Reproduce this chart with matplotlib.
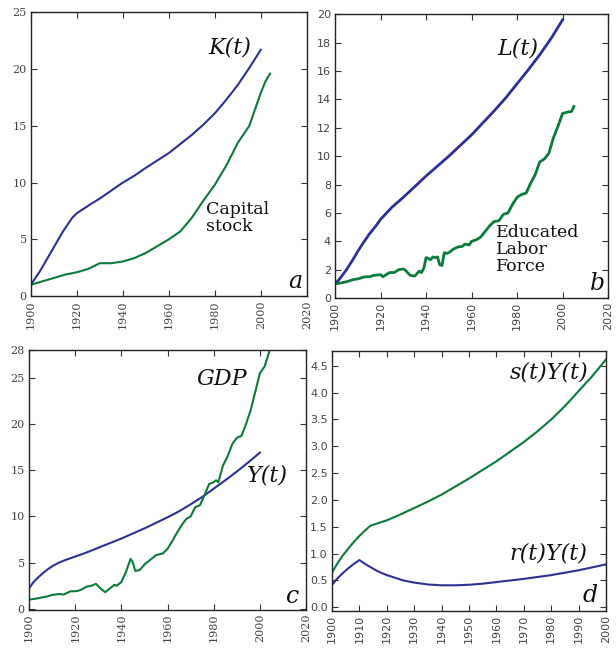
import numpy as np
import matplotlib.pyplot as plt

blue = '#2d3194'
green = '#0b7a3c'
serif = ['DejaVu Serif']
sans = ['DejaVu Sans']

# ---- panel a: capital ----
k_years = [1900, 1902, 1904, 1906, 1908, 1910, 1912, 1914, 1916, 1918, 1920, 1923, 1926, 1930, 1935,
           1940, 1945, 1950, 1955, 1960, 1965, 1970, 1975, 1980, 1985, 1990, 1995, 2000]
k_model = [1.0, 1.6, 2.2, 2.9, 3.6, 4.3, 5.0, 5.7, 6.3, 6.9, 7.3, 7.7, 8.1, 8.6, 9.3,
           10.0, 10.6, 11.3, 11.95, 12.6, 13.4, 14.2, 15.1, 16.1, 17.3, 18.6, 20.1, 21.7]
cap_years = [1900, 1905, 1910, 1915, 1920, 1925, 1930, 1935, 1940, 1945, 1950, 1955, 1960, 1965, 1970, 1975,
             1980, 1985, 1990, 1995, 2000, 2002, 2004]
cap_stock = [1.0, 1.3, 1.6, 1.9, 2.1, 2.4, 2.9, 2.9, 3.05, 3.35, 3.8, 4.4, 5.0, 5.7, 6.9, 8.4,
             9.8, 11.5, 13.5, 15.0, 17.9, 18.9, 19.6]

# ---- panel b: labour ----
l_years = [1900, 1902, 1905, 1908, 1910, 1912, 1915, 1918, 1920, 1925, 1930, 1935, 1940, 1945, 1950,
           1955, 1960, 1965, 1970, 1975, 1980, 1985, 1990, 1995, 2000]
l_model = [1.0, 1.35, 2.0, 2.75, 3.3, 3.8, 4.5, 5.1, 5.55, 6.4, 7.1, 7.85, 8.6, 9.3, 10.0,
           10.75, 11.5, 12.35, 13.2, 14.1, 15.1, 16.1, 17.15, 18.3, 19.6]
edu_years = [1900, 1902, 1905, 1908, 1910, 1913, 1915, 1917, 1920, 1921, 1922, 1924, 1926, 1928, 1930, 1931,
             1933, 1935, 1937, 1938, 1939, 1940, 1941, 1942, 1943, 1944, 1945, 1946, 1947, 1948, 1949, 1950,
             1952, 1954, 1956, 1957, 1959, 1960, 1962, 1964, 1966, 1968, 1970, 1972, 1974, 1976, 1978, 1980,
             1982, 1984, 1986, 1988, 1990, 1992, 1994, 1996, 1998, 2000, 2002, 2004, 2005]
edu_labor = [1.0, 1.05, 1.15, 1.3, 1.35, 1.5, 1.5, 1.6, 1.65, 1.5, 1.6, 1.8, 1.8, 2.0, 2.05, 1.95,
             1.6, 1.55, 1.9, 1.8, 2.1, 2.85, 2.8, 2.7, 2.9, 2.85, 2.9, 2.35, 2.3, 3.2, 3.15, 3.2,
             3.45, 3.6, 3.65, 3.8, 3.75, 4.0, 4.1, 4.3, 4.7, 5.1, 5.4, 5.45, 5.9, 6.0, 6.6, 7.1,
             7.3, 7.4, 8.1, 8.7, 9.6, 9.8, 10.2, 11.3, 12.1, 13.0, 13.1, 13.15, 13.5]

# ---- panel c: output ----
y_years = [1900, 1902, 1904, 1906, 1908, 1910, 1913, 1916, 1920, 1925, 1930, 1935, 1940, 1945, 1950,
           1955, 1960, 1965, 1970, 1975, 1980, 1985, 1990, 1995, 2000]
y_model = [2.2, 2.9, 3.4, 3.85, 4.25, 4.6, 5.0, 5.3, 5.65, 6.1, 6.6, 7.1, 7.6, 8.15, 8.7,
           9.3, 9.9, 10.55, 11.3, 12.1, 13.0, 13.9, 14.85, 15.85, 16.9]
gdp_years = [1900, 1903, 1905, 1908, 1910, 1913, 1915, 1918, 1920, 1922, 1925, 1927, 1929, 1931, 1933, 1935,
             1937, 1938, 1940, 1942, 1944, 1945, 1946, 1948, 1950, 1953, 1955, 1958, 1960, 1962, 1964, 1966,
             1968, 1970, 1972, 1974, 1976, 1978, 1980, 1981, 1982, 1984, 1986, 1988, 1990, 1992, 1994, 1996,
             1998, 2000, 2002, 2004]
gdp = [1.0, 1.1, 1.2, 1.35, 1.5, 1.6, 1.55, 1.9, 1.9, 2.0, 2.4, 2.5, 2.7, 2.2, 1.8, 2.2,
       2.6, 2.5, 2.9, 4.0, 5.4, 5.0, 4.1, 4.2, 4.8, 5.4, 5.8, 6.0, 6.5, 7.3, 8.2, 9.0,
       9.7, 10.0, 11.0, 11.2, 12.3, 13.5, 13.7, 13.9, 13.7, 15.5, 16.5, 17.8, 18.5, 18.7, 20.0, 21.5,
       23.5, 25.5, 26.2, 27.8]

# ---- panel d: savings and returns ----
d_years = [1900, 1902, 1904, 1906, 1908, 1910, 1912, 1914, 1917, 1920, 1925, 1930, 1935, 1940, 1945,
           1950, 1955, 1960, 1965, 1970, 1975, 1980, 1985, 1990, 1995, 2000]
sav = [0.65, 0.82, 0.97, 1.1, 1.22, 1.33, 1.43, 1.52, 1.57, 1.62, 1.73, 1.85, 1.97, 2.1, 2.25,
       2.4, 2.56, 2.72, 2.9, 3.08, 3.28, 3.5, 3.75, 4.03, 4.31, 4.62]
r_years = [1900, 1902, 1904, 1906, 1908, 1910, 1912, 1914, 1916, 1918, 1920, 1923, 1926, 1930, 1935,
           1940, 1945, 1950, 1955, 1960, 1965, 1970, 1975, 1980, 1985, 1990, 1995, 2000]
ret = [0.42, 0.54, 0.64, 0.73, 0.81, 0.88, 0.81, 0.75, 0.69, 0.64, 0.6, 0.55, 0.5, 0.46, 0.425,
       0.41, 0.41, 0.42, 0.44, 0.47, 0.5, 0.53, 0.565, 0.6, 0.645, 0.69, 0.745, 0.8]

fig = plt.figure(figsize=(6.16, 6.48), dpi=100)
ax_a = fig.add_axes([0.050, 0.543, 0.448, 0.438])
ax_b = fig.add_axes([0.544, 0.540, 0.443, 0.438])
ax_c = fig.add_axes([0.047, 0.059, 0.450, 0.401])
ax_d = fig.add_axes([0.539, 0.057, 0.445, 0.401])

def style(ax, fam):
    ax.tick_params(direction='in', top=True, right=True, length=4, color='#333333', labelsize=8,
                   labelcolor='#444444', pad=3)
    for lab in ax.get_xticklabels():
        lab.set_rotation(90)
    for lab in ax.get_xticklabels() + ax.get_yticklabels():
        lab.set_family(fam)
    for s in ax.spines.values():
        s.set_linewidth(1.0)
        s.set_color('#222222')

def label(ax, x, y, txt, size=16, italic=True, ha='center'):
    ax.text(x, y, txt, transform=ax.transAxes, fontsize=size, style='italic' if italic else 'normal',
            family=serif, ha=ha, va='center', linespacing=1.0, color='#111111')

# a
ax_a.plot(k_years, k_model, color=blue, lw=1.5)
ax_a.plot(cap_years, cap_stock, color=green, lw=1.5)
ax_a.set_xlim(1900, 2020)
ax_a.set_ylim(0, 25)
ax_a.set_xticks(range(1900, 2021, 20))
ax_a.set_yticks(range(0, 26, 5))
label(ax_a, 0.72, 0.875, 'K(t)')
label(ax_a, 0.635, 0.275, 'Capital\nstock', size=12.5, italic=False, ha='left')
label(ax_a, 0.96, 0.05, 'a', size=17)
style(ax_a, serif)

# b
ax_b.plot(l_years, l_model, color=blue, lw=2)
ax_b.plot(edu_years, edu_labor, color=green, lw=2)
ax_b.set_xlim(1900, 2020)
ax_b.set_ylim(0, 20)
ax_b.set_xticks(range(1900, 2021, 20))
ax_b.set_yticks(range(0, 21, 2))
label(ax_b, 0.67, 0.88, 'L(t)')
label(ax_b, 0.59, 0.17, 'Educated\nLabor\nForce', size=12.5, italic=False, ha='left')
label(ax_b, 0.96, 0.05, 'b', size=17)
style(ax_b, sans)

# c
ax_c.plot(y_years, y_model, color=blue, lw=1.5)
ax_c.plot(gdp_years, gdp, color=green, lw=1.5)
ax_c.set_xlim(1900, 2020)
ax_c.set_ylim(-0.1, 28)
ax_c.set_xticks(range(1900, 2021, 20))
ax_c.set_yticks([0, 5, 10, 15, 20, 25, 28])
label(ax_c, 0.695, 0.89, 'GDP')
label(ax_c, 0.86, 0.515, 'Y(t)')
label(ax_c, 0.95, 0.05, 'c', size=17)
style(ax_c, serif)

# d
ax_d.plot(d_years, sav, color=green, lw=1.5)
ax_d.plot(r_years, ret, color=blue, lw=1.5)
ax_d.set_xlim(1900, 2000)
ax_d.set_ylim(-0.07, 4.77)
ax_d.set_xticks(range(1900, 2001, 10))
ax_d.set_yticks(np.arange(0, 4.6, 0.5))
ax_d.yaxis.set_major_formatter(plt.FuncFormatter(lambda v, p: f'{v:.1f}'))
label(ax_d, 0.79, 0.92, 's(t)Y(t)')
label(ax_d, 0.79, 0.22, 'r(t)Y(t)')
label(ax_d, 0.94, 0.06, 'd', size=17)
style(ax_d, sans)

fig.savefig('out.png', dpi=100)
